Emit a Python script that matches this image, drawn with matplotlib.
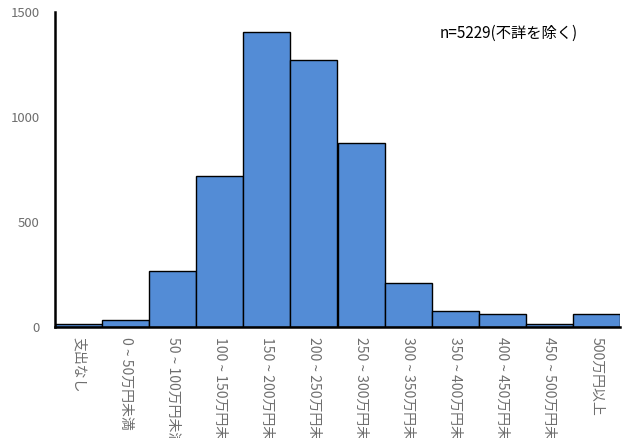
import matplotlib
matplotlib.use("Agg")
import matplotlib.pyplot as plt
import numpy as np

plt.rcParams['font.family'] = ['Noto Sans CJK JP', 'DejaVu Sans']

# categories and counts
categories = ['支出なし', '0 ~ 50万円未満', '50 ~ 100万円未満', '100 ~ 150万円未満',
              '150 ~ 200万円未満', '200 ~ 250万円未満', '250 ~ 300万円未満',
              '300 ~ 350万円未満', '350 ~ 400万円未満', '400 ~ 450万円未満',
              '450 ~ 500万円未満', '500万円以上']
counts = [12, 33, 267, 719, 1405, 1271, 876, 210, 76, 62, 14, 62]
yticks = [0, 500, 1000, 1500]

fig = plt.figure(figsize=(6.31, 4.38), dpi=100)
ax = fig.add_axes([55 / 631, 111 / 438, 565 / 631, 315 / 438])

x = np.arange(len(categories))
ax.bar(x, counts, width=1.0, color='#538cd6', edgecolor='black', linewidth=1.0)

ax.set_xlim(-0.5, len(categories) - 0.5)
ax.set_ylim(0, 1500)
ax.set_yticks(yticks)
ax.set_yticklabels([str(v) for v in yticks], fontsize=9.5, color='#6e6e6e')
ax.set_xticks(x)
ax.set_xticklabels(categories, rotation=270, fontsize=10, color='#6e6e6e',
                   va='top', ha='center')
ax.tick_params(axis='y', length=0, pad=11)
ax.tick_params(axis='x', length=0, pad=7)

for s in ['top', 'right']:
    ax.spines[s].set_visible(False)
ax.spines['left'].set_linewidth(1.8)
ax.spines['bottom'].set_linewidth(1.8)

# note placed in pixel coordinates from the top-left
fig.text(440 / 631, (438 - 33) / 438, 'n=5229(不詳を除く)', fontsize=11,
         color='black', va='center')

fig.savefig('out.png', dpi=100)
